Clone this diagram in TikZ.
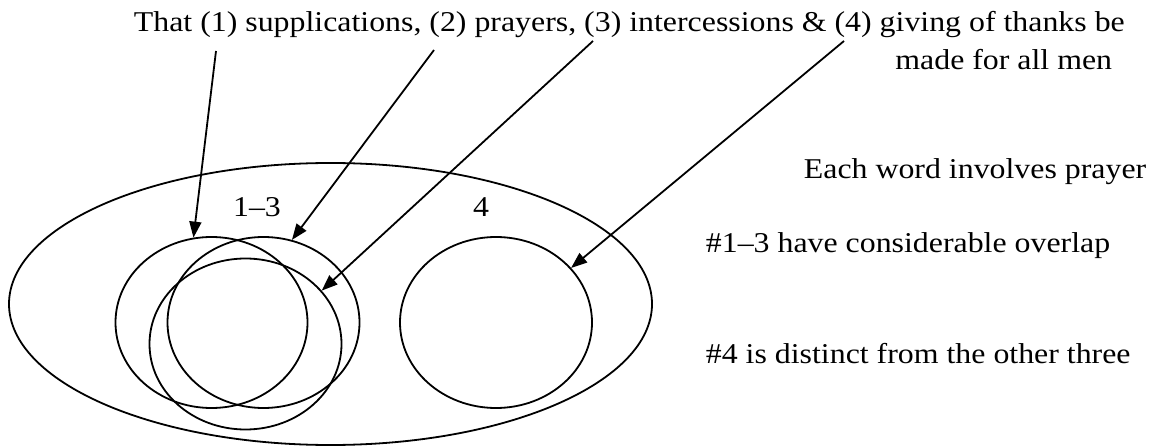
\documentclass[tikz,border=0pt]{standalone}
\usepackage{fontspec}
\setmainfont{Liberation Serif}[FakeStretch=1.11]
\usetikzlibrary{arrows.meta, shapes.geometric}

\begin{document}
\begin{tikzpicture}[
        x = 1pt, y = -1pt,
        line width = 1.8pt,
        >= {Triangle[length = 16pt, width = 12pt]},
        every node/.style = {font = \fontsize{28.7}{34}\selectfont, inner sep = 0pt},
        ring/.style = {draw, ellipse, minimum width = 192pt, minimum height = 171pt}
    ]
    \useasboundingbox (0,0) rectangle (1154,446);

    % the verse
    \node[anchor = base west] (title) at (133,32) {That (1) supplications, (2) prayers, (3) intercessions \& (4) giving of thanks be};
    \node[anchor = base east] (tail) at (1113,70) {made for all men};

    % the sets
    \node[draw, ellipse, minimum width = 643pt, minimum height = 282pt] (whole) at (330.5,304) {};
    \node[ring] (supp) at (211.5,322.5) {};
    \node[ring] (pray) at (263.5,322.5) {};
    \node[ring] (inter) at (245.5,344) {};
    \node[ring] (thanks) at (496,322.5) {};

    \node[anchor = base] (grp) at (257,217) {1--3};
    \node[anchor = base] (four) at (481,217) {4};

    % notes
    \node[anchor = base west] (each) at (803,179) {Each word involves prayer};
    \node[anchor = base west] (overlap) at (705,253) {\#1--3 have considerable overlap};
    \node[anchor = base west] (distinct) at (705,363) {\#4 is distinct from the other three};

    % pointers
    \coordinate (p1) at (216,51);
    \coordinate (p2) at (434,50);
    \coordinate (p3) at (593,41);
    \coordinate (p4) at (844,41);

    \draw[->] (p1) -- (supp.102);
    \draw[->] (p2) -- (pray.71);
    \draw[->] (p3) -- (inter.35);
    \draw[->] (p4) -- (thanks.36);
\end{tikzpicture}
\end{document}
